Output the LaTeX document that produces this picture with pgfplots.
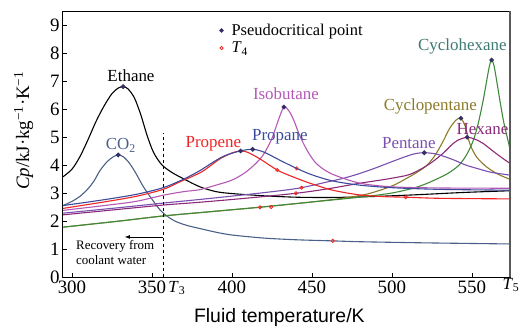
\documentclass[border=0pt]{standalone}
\usepackage{pgfplots}
\pgfplotsset{compat=1.18}
\usepackage{fontspec}
\setmainfont{Liberation Serif}
\newfontfamily\arial{Liberation Sans}
\newcommand\lab{\fontsize{17}{19}\selectfont}
\definecolor{cco}{HTML}{4A6088}
\definecolor{cpropene}{HTML}{F02424}
\definecolor{cpropane}{HTML}{3C4A9C}
\definecolor{ciso}{HTML}{B458B4}
\definecolor{cpent}{HTML}{7A4FB0}
\definecolor{chex}{HTML}{8C2A7A}
\definecolor{ccp}{HTML}{8C7A2A}
\definecolor{cch}{HTML}{3E8A3A}
\definecolor{cchlab}{HTML}{3D7A72}
\definecolor{cpc}{HTML}{352F66}
\pgfplotsset{dotlegend/.style={legend image code/.code={\path[draw=none,fill=none] (0cm,0cm) -- (0.42cm,0cm); \draw[##1] plot coordinates {(0.12cm,0cm)};}}}
\begin{document}
\begin{tikzpicture}
\begin{axis}[
  at={(0,0)}, anchor=south west,
  scale only axis, width=447bp, height=266bp,
  xmin=294.4, xmax=573.8, ymin=0, ymax=9.5,
  xtick={300,350,...,550}, ytick={0,1,...,9},
  xtick pos=left, ytick pos=left,
  tick align=inside, major tick length=4bp,
  tick style={black, line width=0.8bp},
  axis line style={line width=1bp},
  /pgf/number format/assume math mode=true,
  ticklabel style={font=\fontsize{19}{21}\selectfont},
  xlabel={\arial Fluid temperature/K},
  xlabel style={at={(axis description cs:0.484,0)}, anchor=north, yshift=-31bp, inner sep=0pt, font=\fontsize{19.5}{21}\selectfont},
  ylabel={\textit{Cp}/kJ·kg\textsuperscript{−1}·K\textsuperscript{−1}},
  ylabel style={at={(axis description cs:-0.066,0.55)}, anchor=south, inner sep=0pt, font=\fontsize{19}{21}\selectfont},
  clip=false,
  legend style={draw=none, fill=none, at={(axis description cs:0.340,0.965)}, anchor=north west,
    font=\fontsize{16.5}{18}\selectfont, row sep=2bp, nodes={inner sep=1.5bp}},
  legend cell align=left,
  every axis plot/.append style={line width=1.1bp},
]
\addlegendimage{only marks, mark=*, mark size=1.6bp, draw=cpc, fill=cpc, dotlegend}
\addlegendentry{Pseudocritical point}
\addlegendimage{only marks, mark=o, mark size=1.6bp, draw=cpropene, line width=0.8bp, dotlegend}
\addlegendentry{\textit{T}\textsubscript{4}}

% Ethane
\addplot[black, smooth, forget plot] coordinates {(294.4,3.58) (300,3.85) (305,4.3) (310,4.9) (315,5.55) (320,6.1) (325,6.55) (329,6.75) (332,6.8) (335,6.72) (339,6.4) (343,5.8) (347,5.05) (351,4.45) (356,4.02) (362,3.75) (370,3.5) (380,3.22) (390,3.05) (400,2.98) (420,2.9) (440,2.85) (460,2.84) (480,2.86) (500,2.9) (520,2.95) (545,3.02) (573.7,3.08)};
% CO2
\addplot[cco, smooth, forget plot] coordinates {(294.4,2.55) (300,2.7) (305,2.88) (310,3.15) (314,3.45) (317.5,3.8) (322,4.12) (326,4.3) (328.9,4.36) (332,4.3) (336,4.06) (340,3.7) (344.6,3.23) (350,2.78) (355,2.4) (360,2.15) (365,1.98) (372,1.84) (380,1.73) (390,1.6) (400,1.5) (420,1.39) (440,1.33) (463,1.29) (480,1.26) (520,1.22) (573.7,1.18)};
% Cyclopentane
\addplot[ccp, smooth, forget plot] coordinates {(294.4,1.78) (330,2.0) (357,2.18) (386,2.33) (417,2.49) (450,2.68) (470,2.82) (485,2.97) (500,3.25) (510,3.55) (516,3.75) (521.7,3.98) (527,4.35) (532,4.85) (536,5.3) (540,5.6) (543.1,5.67) (546,5.35) (548.75,4.75) (553,4.28) (559,3.94) (566,3.68) (573.7,3.49)};
% Cyclohexane
\addplot[cch, smooth, forget plot] coordinates {(294.4,1.78) (330,2.0) (357,2.18) (386,2.33) (417,2.49) (450,2.68) (480,2.85) (500,3.0) (515,3.2) (525,3.42) (535,3.7) (542,4.0) (547,4.4) (551,4.9) (554,5.5) (557,6.3) (559.5,7.1) (561,7.55) (562.3,7.75) (563.8,7.55) (565.5,7.0) (567.5,6.3) (570,5.5) (573.7,4.6)};
% Hexane
\addplot[chex, smooth, forget plot] coordinates {(294.4,2.22) (330,2.42) (357,2.57) (380,2.67) (410,2.82) (440,2.99) (460,3.15) (480,3.35) (495,3.48) (505,3.58) (511,3.66) (518,3.85) (525,4.1) (532,4.42) (537,4.7) (541,4.88) (547,4.99) (552,4.92) (557,4.77) (562,4.55) (567,4.33) (573.7,4.06)};
% Pentane
\addplot[cpent, smooth, forget plot] coordinates {(294.4,2.28) (330,2.48) (357,2.64) (380,2.77) (410,2.95) (430,3.08) (443.5,3.19) (460,3.4) (470,3.53) (480,3.7) (490,3.9) (500,4.12) (510,4.33) (515,4.41) (520.2,4.44) (527,4.4) (533,4.3) (540,4.15) (546,4.0) (553,3.88) (562,3.74) (573.7,3.64)};
% Isobutane
\addplot[ciso, smooth, forget plot] coordinates {(294.4,2.38) (320,2.55) (340,2.7) (357,2.92) (370,3.05) (380,3.12) (390,3.28) (400,3.46) (408,3.72) (415,4.06) (420,4.4) (425,4.95) (429,5.6) (432.5,6.07) (436,5.9) (439,5.55) (442,5.1) (446.7,4.55) (452,4.1) (458,3.82) (465,3.62) (480,3.35) (500,3.22) (530,3.18) (573.7,3.17)};
% Propene
\addplot[cpropene, smooth, forget plot] coordinates {(294.4,2.45) (320,2.68) (340,2.88) (357,3.13) (367.5,3.4) (380,3.72) (386,3.95) (392.5,4.22) (400,4.43) (405.4,4.5) (410,4.45) (418,4.2) (428.3,3.82) (438,3.58) (448.75,3.35) (463,3.1) (480,2.93) (495,2.87) (508.7,2.85) (530,2.81) (573.7,2.79)};
% Propane
\addplot[cpropane, smooth, forget plot] coordinates {(294.4,2.55) (320,2.76) (340,2.95) (357,3.19) (370,3.5) (380,3.8) (386,4.02) (395,4.32) (405,4.5) (413,4.56) (420,4.46) (430,4.17) (440.4,3.88) (450,3.65) (463,3.43) (480,3.28) (500,3.19) (530,3.13) (573.7,3.1)};

% T3 dashed line and arrow
\addplot[black, dashed, line width=0.8bp, forget plot] coordinates {(357,0) (357,5.15)};
\addplot[black, line width=0.8bp, -latex, forget plot] coordinates {(357,1.43) (333,1.43)};

% pseudocritical points
\addplot[only marks, mark=*, mark size=1.8bp, draw=cpc, fill=cpc, forget plot] coordinates {(332,6.8) (328.9,4.36) (405.4,4.5) (413,4.56) (432.5,6.07) (520.2,4.44) (543.1,5.67) (547,4.99) (562.3,7.75)};
% T4 points
\addplot[only marks, mark=o, mark size=1.6bp, draw=cpropene, line width=0.8bp, mark options={fill=white}, forget plot] coordinates {(417.5,2.49) (424.5,2.5) (428.3,3.82) (440.4,3.88) (440,2.99) (443.5,3.19) (463,1.29) (508.7,2.85)};

% labels
\node[font=\lab, text=black] at (axis cs:336.9,7.18) {Ethane};
\node[font=\lab, text=cco] at (axis cs:330.6,4.71) {CO\textsubscript{2}};
\node[font=\lab, text=cpropene] at (axis cs:388.4,4.77) {Propene};
\node[font=\lab, text=cpropane] at (axis cs:430,5.01) {Propane};
\node[font=\lab, text=ciso] at (axis cs:433.75,6.54) {Isobutane};
\node[font=\lab, text=cpent] at (axis cs:510.6,4.77) {Pentane};
\node[font=\lab, text=chex] at (axis cs:556.6,5.28) {Hexane};
\node[font=\lab, text=ccp] at (axis cs:524,6.1) {Cyclopentane};
\node[font=\lab, text=cchlab] at (axis cs:544,8.23) {Cyclohexane};
\node[font=\fontsize{13}{15}\selectfont, anchor=north west, align=left, inner sep=0pt] at (axis cs:302.5,1.3) {Recovery from\\coolant water};
\node[font=\lab] at (axis cs:365.6,-0.39) {\textit{T}\textsubscript{3}};
\node[font=\lab] at (axis cs:574.4,-0.29) {\textit{T}\textsubscript{5}};
\draw[line width=1.8bp, black!65] (rel axis cs:1,0) -- (rel axis cs:1,1);
\end{axis}
\pgfresetboundingbox
\path[use as bounding box] (-63bp,-54bp) rectangle (459bp,277bp);
\end{tikzpicture}
\end{document}
